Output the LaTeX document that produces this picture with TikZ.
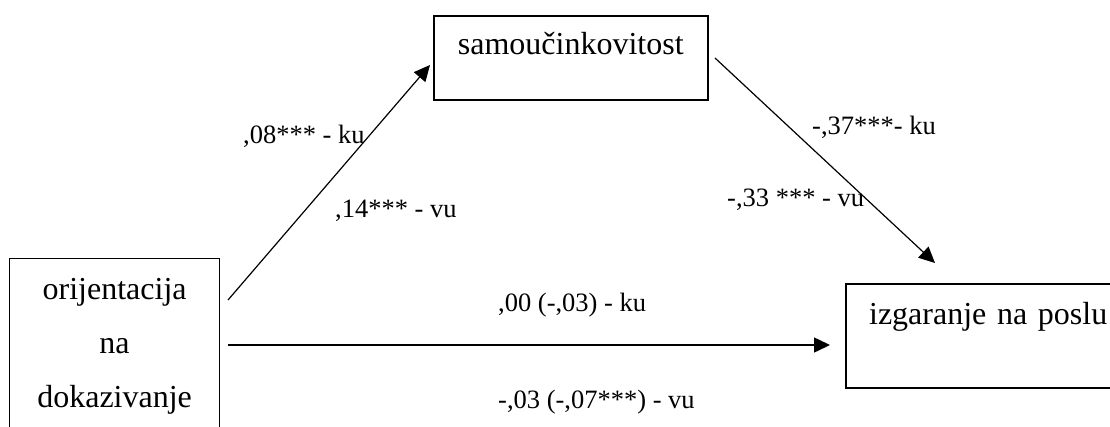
\documentclass[tikz,border=0pt]{standalone}
\usepackage{fontspec}
\setmainfont{Liberation Serif}
\usetikzlibrary{arrows.meta}
\begin{document}
\begin{tikzpicture}[x=1pt,y=-1pt,
  box/.style={draw, inner sep=0pt, anchor=north west},
  boxfont/.style={font=\fontsize{32}{54}\selectfont},
  lbl/.style={font=\fontsize{26.5}{30}\selectfont, inner sep=0pt, anchor=base west},
  conn/.style={-{Triangle[length=16pt,width=15pt]}, line width=1.2pt}]
\useasboundingbox (0,0) rectangle (1110,426);
\clip (0,0) rectangle (1110,426);
% boxes
\node[box, boxfont, line width=1.2pt, text width=210pt, align=center,
      text height=41pt, text depth=200pt] (orient) at (9,258)
      {orijentacija\\na\\dokazivanje};
\node[box, boxfont, line width=1.5pt, minimum width=274pt,
      text height=39pt, text depth=45pt] (samo) at (433,15) {samoučinkovitost};
\node[box, boxfont, line width=2.2pt, text width=290pt, align=left,
      inner xsep=23pt, text height=40pt, text depth=64pt] (izg) at (845,283)
      {izgaranje na poslu};
% connector end points
\coordinate (a1s) at (228,300);
\coordinate (a1e) at (430,65);
\coordinate (a2s) at (715,58);
\coordinate (a2e) at (935,263);
\coordinate (a3s) at (228,345);
\coordinate (a3e) at (830,345);
% connectors
\draw[conn] (a1s) -- (a1e);
\draw[conn] (a2s) -- (a2e);
\draw[conn, line width=1.5pt] (a3s) -- (a3e);
% labels
\node[lbl] (l1) at (243,143) {,08*** - ku};
\node[lbl] (l2) at (335,217) {,14*** - vu};
\node[lbl] (l3) at (812,134) {-,37***- ku};
\node[lbl] (l4) at (727,206) {-,33 *** - vu};
\node[lbl] (l5) at (498,311) {,00 (-,03) - ku};
\node[lbl] (l6) at (498,408) {-,03 (-,07***) - vu};
\end{tikzpicture}
\end{document}
